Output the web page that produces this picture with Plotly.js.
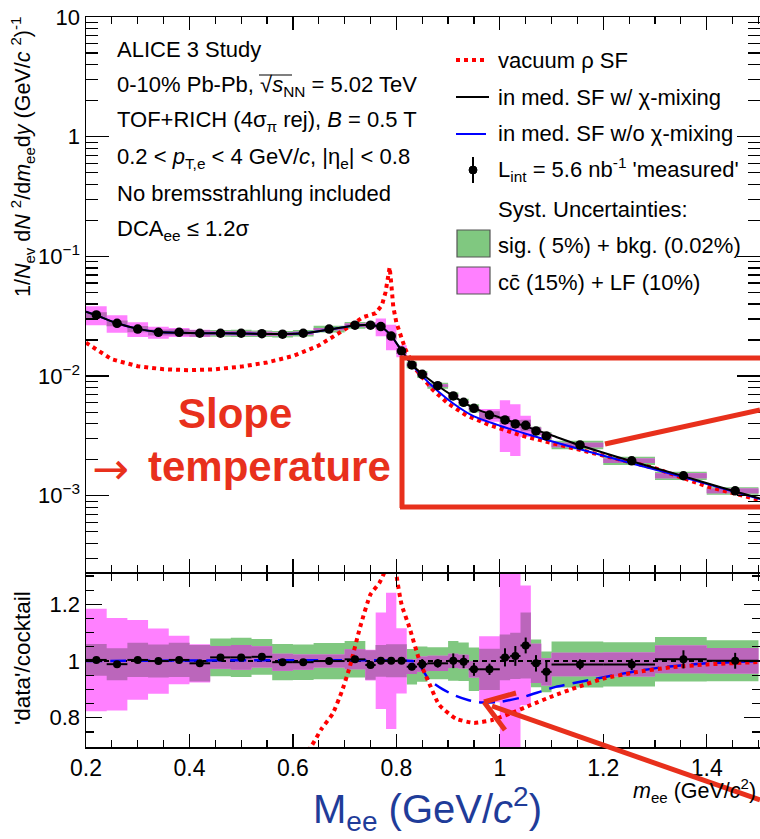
<!DOCTYPE html>
<html><head><meta charset="utf-8">
<script src="https://cdn.plot.ly/plotly-3.0.1.min.js"></script>
<style>body{margin:0;background:#fff}</style>
</head><body>
<div id="chart" style="width:760px;height:839px"></div>
<script>
// ---------------- data ----------------
const binLo = [0.20,0.24,0.28,0.32,0.36,0.40,0.44,0.48,0.52,0.56,0.60,0.64,0.70,0.74,0.76,0.78,0.80,0.82,0.84,0.86,0.90,0.92,0.94,0.96,1.00,1.02,1.04,1.06,1.08,1.10,1.20,1.30,1.40];
const binHi = [0.24,0.28,0.32,0.36,0.40,0.44,0.48,0.52,0.56,0.60,0.64,0.70,0.74,0.76,0.78,0.80,0.82,0.84,0.86,0.90,0.92,0.94,0.96,1.00,1.02,1.04,1.06,1.08,1.10,1.20,1.30,1.40,1.50];
const mass  = [0.22,0.26,0.30,0.34,0.38,0.42,0.46,0.50,0.54,0.58,0.62,0.67,0.72,0.75,0.77,0.79,0.81,0.83,0.85,0.88,0.91,0.93,0.95,0.98,1.01,1.03,1.05,1.07,1.09,1.155,1.255,1.355,1.455];
const yieldMeas = [0.0324,0.0276,0.0247,0.0232,0.0232,0.0228,0.0228,0.0228,0.0226,0.0224,0.0228,0.0247,0.0266,0.0266,0.0259,0.0216,0.0162,0.0124,0.01035,0.00832,0.00682,0.00604,0.00538,0.00473,0.0043,0.00398,0.00388,0.00348,0.00316,0.00266,0.00196,0.00147,0.0011];
const ratioMeas = [1.004,0.989,1.004,1.0,1.004,0.992,1.013,1.013,1.015,0.996,0.996,1.0,1.006,0.986,1.001,1.001,1.001,0.98,0.989,0.992,1.001,0.998,0.971,0.971,1.013,1.018,1.055,0.992,0.962,0.988,0.988,1.006,1.001];
const ratioStat = [0.008,0.008,0.008,0.008,0.008,0.008,0.008,0.008,0.008,0.008,0.008,0.008,0.008,0.01,0.01,0.01,0.01,0.012,0.018,0.015,0.026,0.023,0.023,0.02,0.032,0.035,0.028,0.029,0.035,0.018,0.02,0.032,0.028];
// relative systematic half-widths
const sigSyst = [0.056,0.057,0.06,0.058,0.06,0.065,0.066,0.068,0.062,0.064,0.063,0.064,0.064,0.053,0.056,0.058,0.058,0.064,0.063,0.057,0.07,0.068,0.079,0.075,0.08,0.08,0.11,0.085,0.075,0.082,0.079,0.078,0.072];
const ccSyst  = [0.18,0.165,0.14,0.115,0.085,0.068,0.04,0.043,0.037,0.03,0.027,0.023,0.035,0.055,0.17,0.24,0.115,0.026,0.027,0.027,0.025,0.024,0.03,0.12,0.46,0.46,0.2,0.07,0.05,0.042,0.043,0.049,0.045];

// model curves, upper panel
const medMixX = [0.2,0.22,0.26,0.30,0.34,0.38,0.42,0.50,0.58,0.62,0.67,0.72,0.75,0.77,0.79,0.81,0.83,0.85,0.88,0.91,0.95,1.0,1.05,1.1,1.15,1.25,1.35,1.45,1.503];
const medMixY = [0.0345,0.0322,0.0276,0.0248,0.0234,0.0230,0.0228,0.0227,0.0225,0.0228,0.0245,0.0265,0.0266,0.0258,0.0218,0.0163,0.0125,0.0104,0.0083,0.0068,0.0054,0.0045,0.0038,0.0032,0.00268,0.00197,0.00148,0.0011,0.00095];
const medNoMixX = [0.2,0.22,0.26,0.30,0.34,0.38,0.42,0.50,0.58,0.62,0.67,0.72,0.75,0.77,0.79,0.81,0.83,0.85,0.88,0.91,0.95,1.0,1.05,1.1,1.15,1.25,1.35,1.45,1.503];
const medNoMixY = [0.0345,0.0322,0.0276,0.0248,0.0234,0.0230,0.0228,0.0227,0.0225,0.0228,0.0245,0.0265,0.0266,0.0258,0.0218,0.0163,0.0124,0.0100,0.0075,0.0059,0.0046,0.00385,0.0033,0.00285,0.00248,0.00189,0.00145,0.00109,0.00094];
const vacX = [0.2,0.25,0.3,0.35,0.4,0.45,0.5,0.55,0.6,0.65,0.7,0.735,0.76,0.772,0.779,0.784,0.787,0.79,0.794,0.80,0.806,0.818,0.838,0.87,0.9,0.935,0.98,1.04,1.08,1.12,1.17,1.3,1.4,1.503];
const vacY = [0.019,0.0138,0.0121,0.0114,0.0112,0.0114,0.012,0.013,0.0147,0.018,0.0245,0.031,0.0335,0.039,0.05,0.07,0.081,0.06,0.038,0.028,0.0235,0.0165,0.0113,0.0077,0.0059,0.0047,0.0039,0.0032,0.0029,0.00262,0.00233,0.0017,0.0012,0.00092];

// model curves, ratio panel
const rMixX = [0.2,1.503];
const rMixY = [1.0,1.0];
const rNoMixX = [0.2,0.83,0.841,0.863,0.89,0.915,0.94,0.965,1.0,1.043,1.08,1.108,1.172,1.25,1.313,1.4,1.503];
const rNoMixY = [1.0,1.0,0.995,0.935,0.9,0.877,0.862,0.854,0.856,0.872,0.893,0.909,0.933,0.96,0.978,0.992,1.0];
const rVacX = [0.55,0.60,0.635,0.655,0.677,0.695,0.71,0.73,0.75,0.767,0.778,0.785,0.792,0.799,0.81,0.825,0.845,0.865,0.883,0.915,0.95,0.985,1.02,1.06,1.1,1.15,1.2,1.26,1.33,1.4,1.503];
const rVacY = [0.55,0.62,0.698,0.76,0.815,0.895,0.98,1.12,1.235,1.275,1.32,1.6,1.6,1.32,1.2,1.12,1.0,0.915,0.845,0.797,0.782,0.792,0.815,0.845,0.875,0.908,0.938,0.96,0.978,0.988,0.997];

// ---------------- helpers ----------------
const FONT = 'Liberation Sans, Arial, Helvetica, sans-serif';
const GREEN = '#80c880', MAGENTA = '#ff80ff', PURPLE = '#bb66bb';
const RED = '#ff0000', ANN = '#e8301c';
function boxes(center, frac, xa, ya, color) {
  const x = [], y = [];
  for (let i = 0; i < center.length; i++) {
    const lo = center[i] * (1 - frac[i]), hi = center[i] * (1 + frac[i]);
    x.push(binLo[i], binHi[i], binHi[i], binLo[i], binLo[i], null);
    y.push(lo, lo, hi, hi, lo, null);
  }
  return {x, y, xaxis: xa, yaxis: ya, type: 'scatter', mode: 'lines', fill: 'toself',
    fillcolor: color, line: {width: 0, color: color}, hoverinfo: 'skip'};
}
const overlap = sigSyst.map((s, i) => Math.min(s, ccSyst[i]));
const xErrP = mass.map((m, i) => binHi[i] - m);
const xErrM = mass.map((m, i) => m - binLo[i]);

const traces = [
  boxes(yieldMeas, sigSyst, 'x', 'y', GREEN),
  boxes(yieldMeas, ccSyst, 'x', 'y', MAGENTA),
  boxes(yieldMeas, overlap, 'x', 'y', PURPLE),
  {x: vacX, y: vacY, xaxis: 'x', yaxis: 'y', mode: 'lines', line: {color: RED, width: 4, dash: 'dot'}},
  {x: medNoMixX, y: medNoMixY, xaxis: 'x', yaxis: 'y', mode: 'lines', line: {color: '#0000ff', width: 2, shape: 'spline', smoothing: 0.6}},
  {x: medMixX, y: medMixY, xaxis: 'x', yaxis: 'y', mode: 'lines', line: {color: '#000', width: 2, shape: 'spline', smoothing: 0.6}},
  {x: mass, y: yieldMeas, xaxis: 'x', yaxis: 'y', mode: 'markers', marker: {color: '#000', size: 9.5}},

  boxes(ratioMeas, sigSyst, 'x2', 'y2', GREEN),
  boxes(ratioMeas, ccSyst, 'x2', 'y2', MAGENTA),
  boxes(ratioMeas, overlap, 'x2', 'y2', PURPLE),
  {x: rMixX, y: rMixY, xaxis: 'x2', yaxis: 'y2', mode: 'lines', line: {color: '#000', width: 2, dash: '5px,4px'}},
  {x: rNoMixX, y: rNoMixY, xaxis: 'x2', yaxis: 'y2', mode: 'lines', line: {color: '#0000ff', width: 2.5, dash: '16px,8px', shape: 'spline', smoothing: 0.6}},
  {x: rVacX, y: rVacY, xaxis: 'x2', yaxis: 'y2', mode: 'lines', line: {color: RED, width: 4, dash: 'dot', shape: 'spline', smoothing: 0.5}},
  {x: mass, y: ratioMeas, xaxis: 'x2', yaxis: 'y2', mode: 'markers', marker: {color: '#000', size: 8},
    error_y: {type: 'data', array: ratioStat, color: '#000', thickness: 2, width: 0},
    error_x: {type: 'data', symmetric: false, array: xErrP, arrayminus: xErrM, color: '#000', thickness: 2, width: 0}}
];

// pixel -> paper coordinates (plot area 86..760 x 17..747)
const PX = p => (p - 86) / 674;
const PY = p => (747 - p) / 730;

const minorLog = [];
for (let e = -4; e <= 0; e++) for (let k = 2; k <= 9; k++) minorLog.push(k * Math.pow(10, e));

const axCommon = {showgrid: false, zeroline: false, showline: true, linecolor: '#000', linewidth: 1.5,
  mirror: 'allticks', ticks: 'inside', tickcolor: '#000', tickwidth: 1.3};

const ann = [];
function txt(text, px, py, opts) {
  ann.push(Object.assign({xref: 'paper', yref: 'paper', x: PX(px), y: PY(py), text: text, showarrow: false,
    xanchor: 'left', yanchor: 'middle', font: {family: FONT, size: 22, color: '#000'}}, opts || {}));
}
// left info block
txt('ALICE 3 Study', 115, 50);
txt('0-10% Pb-Pb, √<i>s</i><sub>NN</sub> = 5.02 TeV', 115, 86);
txt('TOF+RICH (4σ<sub>π</sub> rej), <i>B</i> = 0.5 T', 115, 121);
txt('0.2 &lt; <i>p</i><sub>T,e</sub> &lt; 4 GeV/<i>c</i>, |η<sub>e</sub>| &lt; 0.8', 115, 158);
txt('No bremsstrahlung included', 115, 193);
txt('DCA<sub>ee</sub> ≤ 1.2σ', 115, 230);
// legend
txt('vacuum ρ SF', 496, 60);
txt('in med. SF w/ χ-mixing', 496, 97);
txt('in med. SF w/o χ-mixing', 496, 134);
txt('L<sub>int</sub> = 5.6 nb<sup>-1</sup> \'measured\'', 496, 170);
txt('Syst. Uncertainties:', 496, 210);
txt('sig. ( 5%) + bkg. (0.02%)', 496, 245);
txt('cc\u0304 (15%) + LF (10%)', 496, 283);
// axis titles
txt('1/<i>N</i><sub>ev</sub> d<i>N</i> <sup>2</sup>/d<i>m</i><sub>ee</sub>d<i>y</i> (GeV/<i>c</i> <sup>2</sup>)<sup>-1</sup>', 22, 157,
  {xanchor: 'center', textangle: -90, font: {family: FONT, size: 21.5, color: '#000'}});
txt('\'data\'/cocktail', 22, 658, {xanchor: 'center', textangle: -90, font: {family: FONT, size: 22.5, color: '#000'}});
txt('<i>m</i><sub>ee</sub> (GeV/<i>c</i><sup>2</sup>)', 631, 790, {font: {family: FONT, size: 21.5, color: '#000'}});
txt('M<sub>ee</sub> (GeV/<i>c</i><sup>2</sup>)', 311, 809, {font: {family: FONT, size: 40, color: '#1f3c99'}});
txt('<b>Slope</b>', 235, 413, {xanchor: 'center', font: {family: FONT, size: 42, color: ANN}});
txt('→', 90, 468, {font: {family: 'DejaVu Sans, sans-serif', size: 44, color: ANN}});
txt('<b>temperature</b>', 146, 466, {font: {family: FONT, size: 42, color: ANN}});

const shapes = [];
function seg(x0, y0, x1, y1, color, width, dash) {
  shapes.push({type: 'line', xref: 'paper', yref: 'paper', x0: PX(x0), y0: PY(y0), x1: PX(x1), y1: PY(y1),
    line: {color: color, width: width, dash: dash || 'solid'}});
}
function rect(x0, y0, x1, y1, fill) {
  shapes.push({type: 'rect', xref: 'paper', yref: 'paper', x0: PX(x0), y0: PY(y0), x1: PX(x1), y1: PY(y1),
    fillcolor: fill, line: {color: '#555', width: 1.2}});
}
seg(456, 60, 488, 60, RED, 4, 'dot');
seg(456, 97, 489, 97, '#000', 2);
seg(456, 134, 486, 134, '#0000ff', 2);
seg(473, 157, 473, 183, '#000', 2);
shapes.push({type: 'circle', xref: 'paper', yref: 'paper', x0: PX(469), x1: PX(477), y0: PY(166), y1: PY(174),
  fillcolor: '#000', line: {color: '#000', width: 1}});
rect(457, 230, 490, 257, GREEN);
rect(457, 267, 490, 294, MAGENTA);
// overbar of sqrt
seg(259, 75, 292, 75, '#000', 1.2);
// hand-drawn red highlights
seg(400, 358, 760, 358, ANN, 5);
seg(402, 356, 402, 508, ANN, 5);
seg(400, 507, 760, 507, ANN, 5);
seg(605, 444, 760, 410, ANN, 5);
seg(760, 800, 492, 706, ANN, 5);
seg(484, 702, 516, 693, ANN, 5);
seg(484, 702, 505, 730, ANN, 5);

const layout = {
  width: 760, height: 839, margin: {l: 86, r: 0, t: 17, b: 92, pad: 0},
  paper_bgcolor: '#fff', plot_bgcolor: 'rgba(0,0,0,0)', showlegend: false,
  font: {family: FONT, color: '#000', size: 21},
  xaxis: Object.assign({}, axCommon, {domain: [0, 1], anchor: 'y', range: [0.2, 1.503], showticklabels: false,
    tick0: 0.2, dtick: 0.2, ticklen: 13,
    minor: {ticks: 'inside', ticklen: 7, tick0: 0.2, dtick: 0.05, tickcolor: '#000', tickwidth: 1.2}}),
  yaxis: Object.assign({}, axCommon, {domain: [0.2397, 1], anchor: 'x', type: 'log', range: [-3.637, 1],
    tickmode: 'array', tickvals: [0.001, 0.01, 0.1, 1, 10], ticktext: ['10<sup>−3</sup>', '10<sup>−2</sup>', '10<sup>−1</sup>', '1', '10'],
    ticklen: 23, tickfont: {family: FONT, size: 22},
    minor: {ticks: 'inside', ticklen: 12, tickmode: 'array', tickvals: minorLog, tickcolor: '#000', tickwidth: 1.2}}),
  xaxis2: Object.assign({}, axCommon, {domain: [0, 1], anchor: 'y2', matches: 'x', range: [0.2, 1.503],
    tick0: 0.2, dtick: 0.2, ticklen: 13, tickfont: {family: FONT, size: 23},
    minor: {ticks: 'inside', ticklen: 7, tick0: 0.2, dtick: 0.05, tickcolor: '#000', tickwidth: 1.2}}),
  yaxis2: Object.assign({}, axCommon, {domain: [0, 0.237], anchor: 'x2', range: [0.697, 1.307],
    tickmode: 'array', tickvals: [0.8, 1, 1.2], ticktext: ['0.8', '1', '1.2'], ticklen: 16,
    tickfont: {family: FONT, size: 22},
    minor: {ticks: 'inside', ticklen: 8, tick0: 0.7, dtick: 0.05, tickcolor: '#000', tickwidth: 1.2}}),
  annotations: ann, shapes: shapes
};
Plotly.newPlot('chart', traces, layout, {displayModeBar: false, staticPlot: true});
</script>
</body></html>
